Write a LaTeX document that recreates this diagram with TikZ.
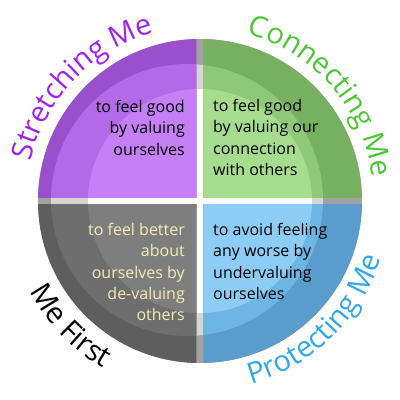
\documentclass[tikz,border=0pt]{standalone}
\usepackage{fontspec}
\setmainfont{Open Sans}
\usetikzlibrary{decorations.text}
\definecolor{stretchA}{HTML}{9A4FCC}
\definecolor{stretchB}{HTML}{B36AE6}
\definecolor{stretchC}{HTML}{C680F7}
\definecolor{connectA}{HTML}{78B062}
\definecolor{connectB}{HTML}{8FC878}
\definecolor{connectC}{HTML}{A5DC8E}
\definecolor{firstA}{HTML}{5E5E5E}
\definecolor{firstB}{HTML}{6E6E6E}
\definecolor{firstC}{HTML}{7E7E7E}
\definecolor{protectA}{HTML}{5A9CCB}
\definecolor{protectB}{HTML}{6DB5E2}
\definecolor{protectC}{HTML}{8DCDF5}
\definecolor{gapA}{HTML}{A2A2A2}
\definecolor{gapB}{HTML}{D6D6D6}
\definecolor{stretchT}{HTML}{A020F0}
\definecolor{connectT}{HTML}{4DC636}
\definecolor{protectT}{HTML}{2EA7EC}
\definecolor{cream}{HTML}{F3EEB2}
\newcommand\arcfont{\fontsize{29}{29}\selectfont}
\tikzset{
	quadtext/.style={font=\fontsize{16}{21.3}\selectfont, inner sep=0pt},
	arclabel/.style={decorate, decoration={text along path, text align=center, text={#1}}}
}
\begin{document}
\begin{tikzpicture}[x=1pt,y=1pt]
		\useasboundingbox (-200,-199) rectangle (200,201);
		\fill[gapA](0,0) circle (162);
		\fill[gapB](-13,1) circle (136);
		\fill[white](0,0) circle (112);
		\foreach \sx/\sy/\q in {-1/1/stretch,1/1/connect,-1/-1/first,1/-1/protect}{
			\begin{scope}
			\clip(3.5*\sx,3.5*\sy) rectangle (170*\sx,170*\sy);
			\fill[fill=\q A](0,0) circle (162);
			\fill[fill=\q B](-13,1) circle (136);
			\fill[fill=\q C](0,0) circle (112);
			\end{scope}
		}
		\node[quadtext, anchor=north east, align=right] (stretchtxt) at (-15,101) {to feel good\\by valuing\\ourselves};
		\node[quadtext, anchor=north west, align=left] (connecttxt) at (13,102) {to feel good\\by valuing our\\connection\\with others};
		\node[quadtext, anchor=north east, align=right, text=cream] (firsttxt) at (-15,-22) {to feel better\\about\\ourselves by\\de-valuing\\others};
		\node[quadtext, anchor=north west, align=left] (protecttxt) at (13,-22) {to avoid feeling\\any worse by\\undervaluing\\ourselves};
		\path[arclabel={|\arcfont\color{stretchT}|Stretching Me}](200:174) arc[start angle=200, end angle=72, radius=174];
		\path[arclabel={|\arcfont\color{connectT}|Connecting Me}](100:174) arc[start angle=100, end angle=-18, radius=174];
		\path[arclabel={|\arcfont\color{black}|Me First}](184:193) arc[start angle=184, end angle=264, radius=193];
		\path[arclabel={|\arcfont\color{protectT}|Protecting Me}](-97:190) arc[start angle=-97, end angle=5, radius=190];
	    \end{tikzpicture}
\end{document}
